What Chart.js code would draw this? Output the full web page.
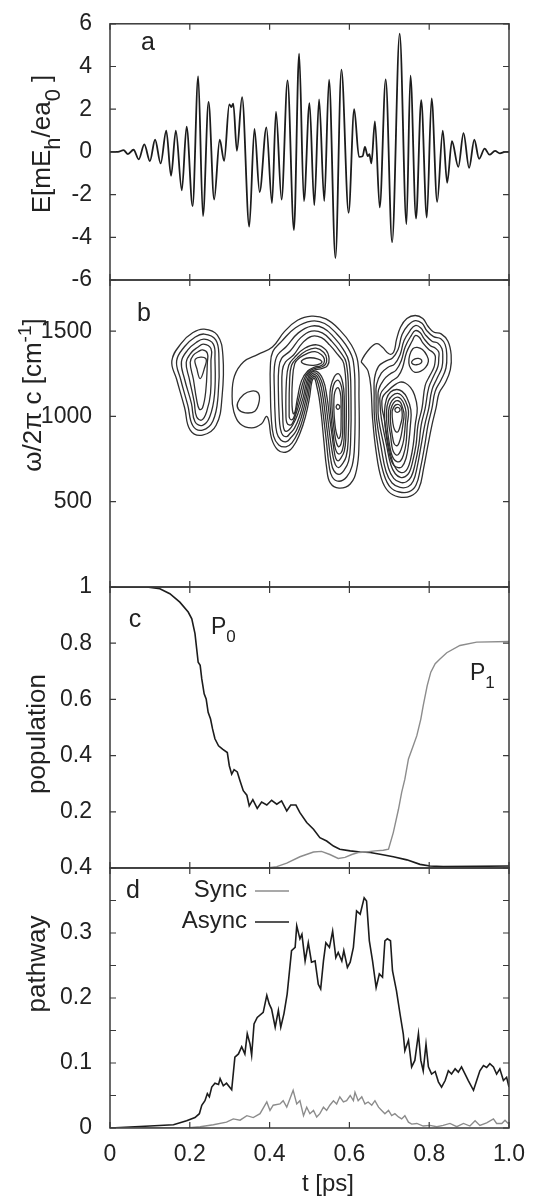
<!DOCTYPE html>
<html>
<head>
<meta charset="utf-8">
<script src="https://cdn.jsdelivr.net/npm/chart.js@4.4.0/dist/chart.umd.min.js"></script>
<style>
  html, body { margin: 0; padding: 0; background: #fff; }
  #wrap { position: relative; width: 539px; height: 1196px; }
  #wrap canvas { position: absolute; left: 0; top: 0; }
</style>
</head>
<body>
<div id="wrap">
  <canvas id="panelA" width="539" height="1196"></canvas>
  <canvas id="panelB" width="539" height="1196"></canvas>
  <canvas id="panelC" width="539" height="1196"></canvas>
  <canvas id="panelD" width="539" height="1196"></canvas>
</div>
<script>
// ---- data ----
const tTicks = [0, 0.2, 0.4, 0.6, 0.8, 1.0];
const tTickLabels = ['0', '0.2', '0.4', '0.6', '0.8', '1.0'];
const fieldTicks = [-6, -4, -2, 0, 2, 4, 6];
const fieldTickLabels = ['-6', '-4', '-2', '0', '2', '4', '6'];
const freqTicks = [500, 1000, 1500];
const freqTickLabels = ['500', '1000', '1500'];
const popTicks = [0.2, 0.4, 0.6, 0.8, 1.0];
const popTickLabels = ['0.2', '0.4', '0.6', '0.8', '1'];
const pathTicks = [0, 0.05, 0.1, 0.15, 0.2, 0.25, 0.3, 0.35, 0.4];
const pathTickLabels = ['0', '', '0.1', '', '0.2', '', '0.3', '', '0.4'];

// panel a: field extrema (t in ps, E in mEh/ea0)
const fieldT = [0, 0.020, 0.034, 0.045, 0.059, 0.072, 0.086, 0.100, 0.113, 0.127, 0.141, 0.153, 0.165, 0.180, 0.192, 0.207, 0.221, 0.233, 0.247, 0.261, 0.275, 0.286, 0.299, 0.304, 0.309, 0.318, 0.331, 0.349, 0.362, 0.375, 0.392, 0.406, 0.416, 0.430, 0.445, 0.461, 0.474, 0.486, 0.500, 0.512, 0.524, 0.537, 0.549, 0.565, 0.580, 0.598, 0.612, 0.624, 0.633, 0.639, 0.646, 0.650, 0.655, 0.664, 0.676, 0.691, 0.707, 0.726, 0.743, 0.753, 0.767, 0.780, 0.794, 0.806, 0.820, 0.834, 0.845, 0.857, 0.873, 0.886, 0.900, 0.913, 0.925, 0.939, 0.951, 0.965, 0.977, 0.990, 1.000];
const fieldE = [0, 0, 0.08, -0.1, 0.1, -0.35, 0.35, -0.43, 0.57, -0.54, 1.0, -1.12, 1.0, -1.8, 1.18, -2.54, 3.54, -3.0, 2.34, -2.23, 0.57, -0.42, 2.23, 2.1, 2.26, 0.05, 2.57, -3.5, 1.08, -1.88, 1.15, -2.4, 1.88, -2.23, 3.35, -3.66, 4.6, -2.3, 2.28, -2.5, 2.46, -2.3, 3.38, -4.97, 3.85, -2.85, 2.0, -0.23, -0.2, 0.23, -0.2, -0.1, -0.54, 1.43, -2.6, 3.4, -4.23, 5.54, -3.38, 3.57, -3.12, 2.42, -3.08, 2.5, -2.34, 1.0, -1.45, 0.5, -0.7, 0.88, -0.75, 0.57, -0.32, 0.15, -0.13, 0.05, -0.07, 0, 0];

// panel b: contour loops, [t (ps), omega/2pi c (cm-1)]
const leftLoops = [
  [[0.236,1512],[0.269,1477],[0.283,1355],[0.281,1120],[0.266,948],[0.232,891],[0.201,920],[0.187,1051],[0.167,1218],[0.155,1326],[0.179,1430],[0.208,1492]],
  [[0.236,1483],[0.265,1449],[0.273,1345],[0.271,1124],[0.258,973],[0.232,920],[0.208,944],[0.195,1065],[0.177,1218],[0.167,1326],[0.187,1410],[0.212,1463]],
  [[0.236,1453],[0.259,1424],[0.263,1336],[0.262,1130],[0.250,998],[0.232,948],[0.213,969],[0.204,1077],[0.187,1218],[0.179,1320],[0.195,1390],[0.216,1434]],
  [[0.234,1424],[0.253,1398],[0.253,1326],[0.252,1136],[0.242,1026],[0.230,979],[0.217,998],[0.211,1085],[0.199,1218],[0.191,1316],[0.204,1375],[0.220,1406]],
  [[0.232,1390],[0.244,1371],[0.244,1316],[0.240,1149],[0.232,1051],[0.224,1042],[0.217,1100],[0.209,1218],[0.201,1316],[0.209,1359],[0.222,1381]],
  [[0.214,1336],[0.240,1340],[0.236,1277],[0.226,1222],[0.218,1277]]
];
const middleLoops = [
  [[0.306,1119],[0.312,1237],[0.335,1321],[0.371,1364],[0.407,1407],[0.437,1497],[0.470,1564],[0.505,1588],[0.541,1572],[0.575,1509],[0.605,1419],[0.621,1321],[0.624,1109],[0.624,835],[0.618,688],[0.602,604],[0.574,580],[0.552,610],[0.543,698],[0.536,855],[0.530,1000],[0.524,1110],[0.518,1180],[0.512,1225],[0.506,1205],[0.500,1110],[0.490,1000],[0.476,900],[0.458,820],[0.440,790],[0.420,805],[0.405,870],[0.398,972],[0.392,1000],[0.380,957],[0.355,933],[0.326,957],[0.310,1031]],
  [[0.404,1000],[0.402,1150],[0.402,1300],[0.408,1380],[0.430,1440],[0.465,1520],[0.505,1559],[0.538,1545],[0.568,1485],[0.595,1405],[0.610,1320],[0.614,1110],[0.613,840],[0.607,712],[0.593,645],[0.574,620],[0.557,645],[0.549,715],[0.542,860],[0.535,1000],[0.529,1110],[0.522,1190],[0.513,1235],[0.504,1215],[0.496,1110],[0.485,1000],[0.472,910],[0.456,845],[0.441,822],[0.423,833],[0.410,885]],
  [[0.414,1000],[0.412,1150],[0.412,1290],[0.420,1360],[0.442,1410],[0.472,1490],[0.505,1530],[0.535,1518],[0.562,1462],[0.585,1392],[0.599,1318],[0.604,1110],[0.603,850],[0.598,738],[0.586,682],[0.574,660],[0.561,682],[0.554,738],[0.547,865],[0.540,1000],[0.534,1110],[0.526,1200],[0.514,1245],[0.502,1222],[0.492,1110],[0.480,1000],[0.467,918],[0.453,875],[0.442,852],[0.428,862],[0.418,905]],
  [[0.424,1000],[0.422,1150],[0.423,1280],[0.430,1340],[0.452,1385],[0.478,1462],[0.505,1500],[0.532,1490],[0.556,1440],[0.577,1378],[0.592,1315],[0.598,1110],[0.597,860],[0.592,765],[0.582,720],[0.573,700],[0.565,717],[0.559,765],[0.552,870],[0.545,1000],[0.539,1110],[0.530,1208],[0.515,1255],[0.500,1230],[0.488,1110],[0.475,1000],[0.462,930],[0.451,900],[0.443,882],[0.433,890],[0.427,930]],
  [[0.433,1000],[0.431,1150],[0.432,1270],[0.440,1320],[0.460,1360],[0.482,1430],[0.505,1470],[0.530,1462],[0.551,1418],[0.570,1365],[0.586,1310],[0.592,1110],[0.591,870],[0.587,795],[0.579,757],[0.572,740],[0.566,754],[0.562,795],[0.557,880],[0.550,1000],[0.544,1110],[0.534,1215],[0.516,1265],[0.498,1238],[0.484,1110],[0.470,1010],[0.458,950],[0.449,922],[0.442,912],[0.437,920],[0.434,950]],
  [[0.441,1000],[0.443,965],[0.449,950],[0.456,955],[0.464,1000],[0.479,1110],[0.490,1215],[0.500,1258],[0.516,1274],[0.532,1282],[0.545,1298],[0.549,1340],[0.541,1390],[0.518,1420],[0.488,1400],[0.462,1345],[0.448,1300],[0.442,1200]],
  [[0.449,1020],[0.450,990],[0.455,980],[0.460,990],[0.466,1035],[0.474,1110],[0.486,1215],[0.498,1262],[0.515,1282],[0.530,1290],[0.540,1305],[0.543,1338],[0.536,1375],[0.516,1400],[0.492,1385],[0.470,1345],[0.455,1300],[0.450,1200]],
  [[0.456,1100],[0.457,1040],[0.460,1015],[0.464,1030],[0.467,1070],[0.470,1110],[0.480,1210],[0.496,1268],[0.513,1289],[0.528,1297],[0.536,1312],[0.537,1338],[0.530,1362],[0.514,1380],[0.495,1370],[0.476,1345],[0.463,1310],[0.457,1200]],
  [[0.480,1318],[0.492,1304],[0.510,1300],[0.526,1308],[0.531,1322],[0.520,1338],[0.500,1344],[0.485,1335]],
  [[0.320,1080],[0.335,1129],[0.355,1149],[0.371,1139],[0.374,1090],[0.363,1031],[0.339,1021],[0.322,1041]],
  [[0.554,1000],[0.560,880],[0.565,810],[0.573,780],[0.582,800],[0.587,880],[0.587,1110],[0.583,1200],[0.573,1250],[0.562,1232],[0.553,1170],[0.551,1100]],
  [[0.558,1000],[0.563,900],[0.567,850],[0.573,822],[0.579,840],[0.583,900],[0.583,1110],[0.580,1175],[0.572,1212],[0.563,1198],[0.557,1150],[0.556,1080]],
  [[0.562,1000],[0.565,930],[0.569,890],[0.573,870],[0.577,885],[0.579,930],[0.579,1100],[0.577,1140],[0.572,1168],[0.566,1158],[0.562,1125],[0.561,1060]],
  [[0.567,1052],[0.571,1042],[0.575,1048],[0.576,1060],[0.572,1070],[0.568,1065]]
];
const rightLoops = [
  [[0.630,1323],[0.652,1401],[0.669,1427],[0.683,1405],[0.700,1366],[0.711,1378],[0.718,1450],[0.728,1523],[0.744,1574],[0.765,1592],[0.784,1574],[0.797,1529],[0.811,1495],[0.830,1484],[0.847,1441],[0.855,1362],[0.853,1274],[0.840,1196],[0.825,1137],[0.817,1049],[0.807,951],[0.797,833],[0.786,696],[0.774,578],[0.753,533],[0.723,529],[0.698,559],[0.680,637],[0.667,794],[0.658,990],[0.654,1166],[0.647,1264],[0.636,1303]],
  [[0.662,1127],[0.663,1225],[0.673,1294],[0.690,1323],[0.708,1343],[0.722,1392],[0.732,1480],[0.747,1535],[0.765,1562],[0.782,1546],[0.794,1503],[0.811,1468],[0.829,1456],[0.840,1421],[0.844,1362],[0.842,1284],[0.830,1215],[0.815,1147],[0.807,1049],[0.797,951],[0.789,833],[0.778,696],[0.767,598],[0.750,559],[0.725,557],[0.703,584],[0.687,657],[0.673,804],[0.663,990]],
  [[0.667,1107],[0.668,1186],[0.680,1254],[0.697,1288],[0.713,1307],[0.727,1362],[0.737,1445],[0.752,1503],[0.765,1533],[0.779,1519],[0.790,1480],[0.807,1441],[0.822,1429],[0.832,1397],[0.834,1352],[0.832,1288],[0.820,1225],[0.807,1156],[0.799,1049],[0.789,951],[0.780,833],[0.770,706],[0.760,621],[0.747,588],[0.727,584],[0.707,610],[0.692,676],[0.680,813],[0.668,990]],
  [[0.672,1088],[0.673,1156],[0.686,1215],[0.702,1249],[0.717,1272],[0.730,1327],[0.740,1409],[0.755,1474],[0.765,1503],[0.777,1492],[0.787,1456],[0.803,1415],[0.815,1401],[0.824,1378],[0.824,1343],[0.822,1294],[0.811,1235],[0.799,1170],[0.790,1049],[0.780,951],[0.774,833],[0.764,715],[0.755,647],[0.743,617],[0.728,613],[0.711,637],[0.698,696],[0.687,823],[0.673,990]],
  [[0.677,1068],[0.678,1131],[0.692,1176],[0.707,1209],[0.722,1235],[0.733,1284],[0.743,1374],[0.758,1445],[0.765,1474],[0.775,1464],[0.784,1431],[0.799,1392],[0.809,1376],[0.815,1356],[0.815,1327],[0.812,1288],[0.802,1241],[0.790,1182],[0.782,1049],[0.772,951],[0.767,833],[0.758,731],[0.750,672],[0.740,647],[0.728,643],[0.715,664],[0.704,715],[0.693,833],[0.680,990]],
  [[0.682,1049],[0.683,1111],[0.697,1151],[0.712,1182],[0.727,1201],[0.740,1196],[0.753,1170],[0.763,1127],[0.770,1049],[0.765,951],[0.760,833],[0.753,745],[0.746,696],[0.738,674],[0.728,672],[0.718,690],[0.708,735],[0.698,833],[0.687,990]],
  [[0.688,1029],[0.693,1103],[0.703,1143],[0.718,1158],[0.732,1147],[0.744,1111],[0.754,1039],[0.753,951],[0.748,833],[0.742,755],[0.732,706],[0.722,700],[0.711,715],[0.703,755],[0.696,833],[0.690,931]],
  [[0.693,1029],[0.698,1092],[0.708,1123],[0.720,1135],[0.730,1125],[0.740,1092],[0.748,1033],[0.745,951],[0.742,843],[0.736,778],[0.728,739],[0.719,735],[0.711,751],[0.705,784],[0.700,843],[0.695,931]],
  [[0.698,1029],[0.703,1078],[0.712,1105],[0.721,1113],[0.729,1103],[0.737,1072],[0.742,1025],[0.740,951],[0.736,862],[0.730,809],[0.723,778],[0.717,774],[0.710,794],[0.706,833],[0.703,892],[0.699,951]],
  [[0.703,1029],[0.707,1064],[0.714,1088],[0.722,1092],[0.728,1082],[0.733,1053],[0.737,1013],[0.734,951],[0.730,892],[0.725,849],[0.720,829],[0.713,837],[0.709,868],[0.706,911],[0.703,970]],
  [[0.707,1025],[0.710,1049],[0.716,1068],[0.723,1070],[0.729,1058],[0.732,1029],[0.732,990],[0.728,951],[0.723,915],[0.718,908],[0.713,923],[0.709,960]],
  [[0.714,1040],[0.718,1052],[0.724,1051],[0.727,1038],[0.723,1026],[0.717,1026]],
  [[0.751,1358],[0.759,1397],[0.770,1405],[0.783,1392],[0.794,1358],[0.798,1323],[0.791,1288],[0.778,1264],[0.763,1260],[0.754,1280],[0.749,1313]],
  [[0.756,1320],[0.763,1336],[0.773,1340],[0.781,1330],[0.779,1312],[0.768,1303],[0.759,1307]]
];

// panel c: populations
const p0T = [0, 0.092, 0.125, 0.150, 0.175, 0.196, 0.205, 0.213, 0.221, 0.226, 0.230, 0.236, 0.241, 0.246, 0.252, 0.257, 0.263, 0.272, 0.282, 0.294, 0.299, 0.305, 0.311, 0.319, 0.326, 0.334, 0.343, 0.349, 0.358, 0.369, 0.380, 0.393, 0.405, 0.418, 0.430, 0.443, 0.453, 0.466, 0.476, 0.493, 0.510, 0.526, 0.543, 0.560, 0.576, 0.602, 0.627, 0.652, 0.677, 0.710, 0.744, 0.777, 0.802, 0.835, 1.0];
const p0V = [1.0, 1.0, 0.994, 0.976, 0.946, 0.911, 0.887, 0.834, 0.732, 0.721, 0.673, 0.620, 0.602, 0.554, 0.530, 0.495, 0.460, 0.435, 0.423, 0.411, 0.364, 0.334, 0.350, 0.342, 0.310, 0.275, 0.259, 0.221, 0.243, 0.212, 0.235, 0.224, 0.241, 0.227, 0.239, 0.203, 0.224, 0.224, 0.197, 0.162, 0.138, 0.108, 0.096, 0.078, 0.067, 0.061, 0.057, 0.055, 0.049, 0.040, 0.029, 0.013, 0.007, 0.005, 0.007];
const p1T = [0, 0.393, 0.418, 0.443, 0.476, 0.510, 0.530, 0.551, 0.572, 0.589, 0.606, 0.622, 0.643, 0.664, 0.685, 0.698, 0.710, 0.723, 0.731, 0.739, 0.748, 0.760, 0.769, 0.779, 0.785, 0.795, 0.804, 0.815, 0.827, 0.844, 0.877, 0.919, 1.0];
const p1V = [0, 0, 0.005, 0.017, 0.040, 0.057, 0.059, 0.048, 0.034, 0.038, 0.048, 0.055, 0.057, 0.061, 0.063, 0.067, 0.126, 0.209, 0.269, 0.316, 0.388, 0.435, 0.471, 0.530, 0.578, 0.649, 0.697, 0.727, 0.744, 0.766, 0.792, 0.804, 0.806];

// panel d: pathways
const asyncT = [0, 0.100, 0.159, 0.192, 0.213, 0.224, 0.230, 0.238, 0.244, 0.249, 0.255, 0.263, 0.272, 0.276, 0.284, 0.292, 0.305, 0.313, 0.322, 0.330, 0.338, 0.344, 0.351, 0.355, 0.361, 0.369, 0.384, 0.393, 0.399, 0.405, 0.414, 0.422, 0.428, 0.436, 0.444, 0.455, 0.464, 0.468, 0.476, 0.481, 0.489, 0.497, 0.505, 0.514, 0.522, 0.528, 0.535, 0.541, 0.550, 0.558, 0.566, 0.572, 0.581, 0.586, 0.595, 0.602, 0.610, 0.618, 0.627, 0.637, 0.643, 0.650, 0.658, 0.667, 0.675, 0.683, 0.689, 0.695, 0.703, 0.708, 0.718, 0.727, 0.735, 0.739, 0.748, 0.756, 0.764, 0.773, 0.779, 0.785, 0.792, 0.798, 0.806, 0.815, 0.823, 0.831, 0.840, 0.848, 0.856, 0.865, 0.873, 0.881, 0.890, 0.898, 0.911, 0.919, 0.927, 0.936, 0.944, 0.952, 0.961, 0.969, 0.977, 0.986, 0.994, 1.0];
const asyncV = [0, 0.003, 0.005, 0.011, 0.016, 0.022, 0.035, 0.042, 0.053, 0.048, 0.063, 0.069, 0.067, 0.076, 0.065, 0.069, 0.059, 0.109, 0.114, 0.125, 0.114, 0.145, 0.129, 0.112, 0.160, 0.170, 0.178, 0.204, 0.191, 0.183, 0.155, 0.181, 0.155, 0.176, 0.206, 0.273, 0.278, 0.311, 0.291, 0.298, 0.257, 0.285, 0.255, 0.257, 0.221, 0.214, 0.257, 0.285, 0.278, 0.303, 0.262, 0.270, 0.257, 0.273, 0.247, 0.255, 0.278, 0.334, 0.329, 0.354, 0.349, 0.288, 0.257, 0.216, 0.237, 0.232, 0.288, 0.291, 0.288, 0.242, 0.211, 0.175, 0.145, 0.119, 0.135, 0.094, 0.104, 0.145, 0.104, 0.088, 0.129, 0.094, 0.083, 0.087, 0.071, 0.063, 0.073, 0.088, 0.083, 0.091, 0.086, 0.094, 0.083, 0.073, 0.058, 0.073, 0.088, 0.096, 0.093, 0.099, 0.094, 0.083, 0.091, 0.073, 0.078, 0.063];
const syncT = [0, 0.192, 0.226, 0.259, 0.292, 0.309, 0.326, 0.343, 0.359, 0.376, 0.393, 0.401, 0.409, 0.426, 0.434, 0.443, 0.451, 0.459, 0.468, 0.476, 0.485, 0.493, 0.501, 0.510, 0.518, 0.526, 0.535, 0.543, 0.551, 0.560, 0.568, 0.576, 0.585, 0.593, 0.602, 0.610, 0.614, 0.622, 0.631, 0.639, 0.647, 0.656, 0.664, 0.673, 0.681, 0.689, 0.698, 0.706, 0.714, 0.723, 0.731, 0.739, 0.748, 0.756, 0.769, 0.785, 0.802, 0.819, 0.835, 0.852, 0.869, 0.886, 0.902, 0.915, 0.927, 0.944, 0.961, 0.969, 0.982, 0.990, 0.998];
const syncV = [0, 0, 0.002, 0.005, 0.009, 0.014, 0.012, 0.019, 0.016, 0.022, 0.040, 0.027, 0.035, 0.037, 0.042, 0.032, 0.045, 0.058, 0.037, 0.042, 0.019, 0.032, 0.022, 0.027, 0.017, 0.022, 0.032, 0.027, 0.035, 0.042, 0.037, 0.048, 0.040, 0.042, 0.050, 0.042, 0.055, 0.042, 0.048, 0.037, 0.040, 0.035, 0.042, 0.032, 0.027, 0.022, 0.027, 0.019, 0.022, 0.017, 0.014, 0.019, 0.009, 0.006, 0.007, 0.003, 0.004, 0.002, 0.004, 0.007, 0.002, 0.007, 0.003, 0.011, 0.004, 0.008, 0.014, 0.007, 0.007, 0.012, 0.007];

// ---- look and layout ----
const FONT = '"Liberation Sans", Arial, Helvetica, sans-serif';
const INK = '#222';
const GREY = '#8c8c8c';
const CONTOUR = '#2f2f2f';
const FRAME = '#3a3a3a';
const W = 539, H = 1196;
const PLOT_LEFT = 110, PLOT_RIGHT = 509;
const X_AXIS_H = 68;
const TICK_LEN = 6;

Chart.defaults.font.family = FONT;
Chart.defaults.color = INK;

function pairs(ts, vs) {
    return ts.map((t, i) => ({ x: t, y: vs[i] }));
}

// fixed tick values; Chart.js would otherwise respace uneven ranges
function fixedTicks(values) {
    return scale => { scale.ticks = values.map(v => ({ value: v })); };
}

function xScale(showLabels) {
    const s = {
        type: 'linear', min: 0, max: 1, bounds: 'data', display: showLabels,
        grid: { display: false }, border: { display: false },
        afterBuildTicks: fixedTicks(tTicks),
        ticks: {
            padding: 5, color: INK, maxRotation: 0, autoSkip: false,
            font: { family: FONT, size: 23 },
            callback: (v, i) => tTickLabels[i]
        }
    };
    if (showLabels) s.afterFit = scale => { scale.height = X_AXIS_H; };
    return s;
}

function yScale(min, max, values, labels) {
    return {
        type: 'linear', min, max, bounds: 'data',
        grid: { display: false }, border: { display: false },
        afterBuildTicks: fixedTicks(values),
        ticks: {
            padding: 10, color: INK, autoSkip: false,
            font: { family: FONT, size: 23 },
            callback: (v, i) => labels[i] ?? ''
        },
        afterFit: scale => { scale.width = PLOT_LEFT; }
    };
}

// box round the plot with gnuplot-style inward ticks on all four sides
const framePlugin = {
    id: 'frame',
    afterDatasetsDraw(chart) {
        const { ctx, chartArea: a, scales: { x, y } } = chart;
        ctx.save();
        ctx.strokeStyle = FRAME;
        ctx.lineWidth = 1.2;
        ctx.beginPath();
        x.ticks.forEach(t => {
            const px = x.getPixelForValue(t.value);
            ctx.moveTo(px, a.top); ctx.lineTo(px, a.top + TICK_LEN);
            ctx.moveTo(px, a.bottom); ctx.lineTo(px, a.bottom - TICK_LEN);
        });
        y.ticks.forEach(t => {
            const py = y.getPixelForValue(t.value);
            ctx.moveTo(a.left, py); ctx.lineTo(a.left + TICK_LEN, py);
            ctx.moveTo(a.right, py); ctx.lineTo(a.right - TICK_LEN, py);
        });
        ctx.stroke();
        ctx.lineWidth = 1.5;
        ctx.strokeRect(a.left, a.top, a.right - a.left, a.bottom - a.top);
        ctx.restore();
    }
};

// text with sub/superscripts; parts = [[text, kind]], kind -1 sub, 1 sup
function drawRich(ctx, parts, x, y, o) {
    const size = o.size;
    const fontFor = k => `${k ? Math.round(size * (o.small || 0.8)) : size}px ${FONT}`;
    ctx.save();
    ctx.translate(x, y);
    if (o.rotate) ctx.rotate(-Math.PI / 2);
    ctx.fillStyle = INK;
    ctx.textBaseline = 'alphabetic';
    ctx.textAlign = 'left';
    let total = 0;
    const widths = parts.map(([s, k]) => {
        ctx.font = fontFor(k);
        const w = ctx.measureText(s).width;
        total += w;
        return w;
    });
    let cx = o.align === 'right' ? -total : o.align === 'left' ? 0 : -total / 2;
    parts.forEach(([s, k], i) => {
        ctx.font = fontFor(k);
        const dy = k === -1 ? size * (o.sub || 0.35) : k === 1 ? -size * (o.sup || 0.4) : 0;
        ctx.fillText(s, cx, dy);
        cx += widths[i];
    });
    ctx.restore();
}

function textPlugin(draw) {
    return { id: 'labels', afterDraw(chart) { draw(chart.ctx, chart); } };
}

function baseOptions(top, bottom, y, showX) {
    return {
        responsive: false,
        animation: false,
        devicePixelRatio: 1,
        events: [],
        layout: { padding: { left: 0, right: W - PLOT_RIGHT, top, bottom: showX ? H - bottom - X_AXIS_H : H - bottom } },
        plugins: { legend: { display: false }, tooltip: { enabled: false } },
        scales: { x: xScale(showX), y }
    };
}

function loopDataset(loop) {
    // wrap the ends so the spline closes smoothly, hide the two extra segments
    const pts = loop.map(([t, w]) => ({ x: t, y: w }));
    const n = pts.length;
    return {
        data: [pts[n - 1], ...pts, pts[0], pts[1]],
        showLine: true, fill: false, pointRadius: 0,
        borderColor: CONTOUR, borderWidth: 1.3, tension: 0.42,
        segment: {
            borderColor: c => (c.p0DataIndex === 0 || c.p0DataIndex === n + 1) ? 'rgba(0,0,0,0)' : CONTOUR
        }
    };
}

// ---- panel a: laser field ----
new Chart(document.getElementById('panelA'), {
    type: 'scatter',
    data: {
        datasets: [{
            data: pairs(fieldT, fieldE),
            showLine: true, pointRadius: 0, borderColor: '#1c1c1c', borderWidth: 1.8,
            cubicInterpolationMode: 'monotone'
        }]
    },
    options: baseOptions(19, 280, yScale(-6, 6, fieldTicks, fieldTickLabels), false),
    plugins: [framePlugin, textPlugin(ctx => {
        drawRich(ctx, [['a', 0]], 148, 50, { size: 25 });
        drawRich(ctx, [['E[mE', 0], ['h', -1], ['/ea', 0], ['0', -1], [' ]', 0]], 50, 144,
            { size: 26, rotate: true, small: 0.85, sub: 0.38 });
    })]
});

// ---- panel b: spectrogram contours ----
const allLoops = [...leftLoops, ...middleLoops, ...rightLoops];
new Chart(document.getElementById('panelB'), {
    type: 'scatter',
    data: { datasets: allLoops.map(loopDataset) },
    options: baseOptions(280, 587, yScale(0, 1800, freqTicks, freqTickLabels), false),
    plugins: [framePlugin, textPlugin(ctx => {
        drawRich(ctx, [['b', 0]], 144, 321, { size: 25 });
        drawRich(ctx, [['\u03c9/2\u03c0 c [cm', 0], ['-1', 1], [']', 0]], 41, 395,
            { size: 26, rotate: true, small: 0.72, sup: 0.38 });
    })]
});

// ---- panel c: populations ----
new Chart(document.getElementById('panelC'), {
    type: 'scatter',
    data: {
        datasets: [
            { data: pairs(p1T, p1V), showLine: true, pointRadius: 0, borderColor: GREY, borderWidth: 1.4, tension: 0 },
            { data: pairs(p0T, p0V), showLine: true, pointRadius: 0, borderColor: '#1c1c1c', borderWidth: 1.6, tension: 0 }
        ]
    },
    options: baseOptions(587, 868, yScale(0, 1, popTicks, popTickLabels), false),
    plugins: [framePlugin, textPlugin(ctx => {
        drawRich(ctx, [['c', 0]], 135, 627, { size: 25 });
        drawRich(ctx, [['P', 0], ['0', -1]], 211, 634, { size: 23, align: 'left', small: 0.75, sub: 0.33 });
        drawRich(ctx, [['P', 0], ['1', -1]], 470, 680, { size: 23, align: 'left', small: 0.75, sub: 0.33 });
        drawRich(ctx, [['population', 0]], 45, 734, { size: 26, rotate: true });
    })]
});

// ---- panel d: pathways ----
new Chart(document.getElementById('panelD'), {
    type: 'scatter',
    data: {
        datasets: [
            { data: pairs(syncT, syncV), showLine: true, pointRadius: 0, borderColor: GREY, borderWidth: 1.4, tension: 0 },
            { data: pairs(asyncT, asyncV), showLine: true, pointRadius: 0, borderColor: '#1c1c1c', borderWidth: 1.6, tension: 0 }
        ]
    },
    options: baseOptions(868, 1128, yScale(0, 0.4, pathTicks, pathTickLabels), true),
    plugins: [framePlugin, textPlugin(ctx => {
        drawRich(ctx, [['d', 0]], 133, 898, { size: 25 });
        drawRich(ctx, [['pathway', 0]], 45, 964, { size: 26, rotate: true });
        drawRich(ctx, [['t [ps]', 0]], 328, 1191, { size: 24 });
        // key
        const key = [['Sync', GREY, 897, 891], ['Async', '#1c1c1c', 928, 922]];
        key.forEach(([label, color, base, ly]) => {
            drawRich(ctx, [[label, 0]], 247, base, { size: 24, align: 'right' });
            ctx.save();
            ctx.strokeStyle = color;
            ctx.lineWidth = 1.5;
            ctx.beginPath();
            ctx.moveTo(255, ly); ctx.lineTo(289, ly);
            ctx.stroke();
            ctx.restore();
        });
    })]
});
</script>
</body>
</html>
